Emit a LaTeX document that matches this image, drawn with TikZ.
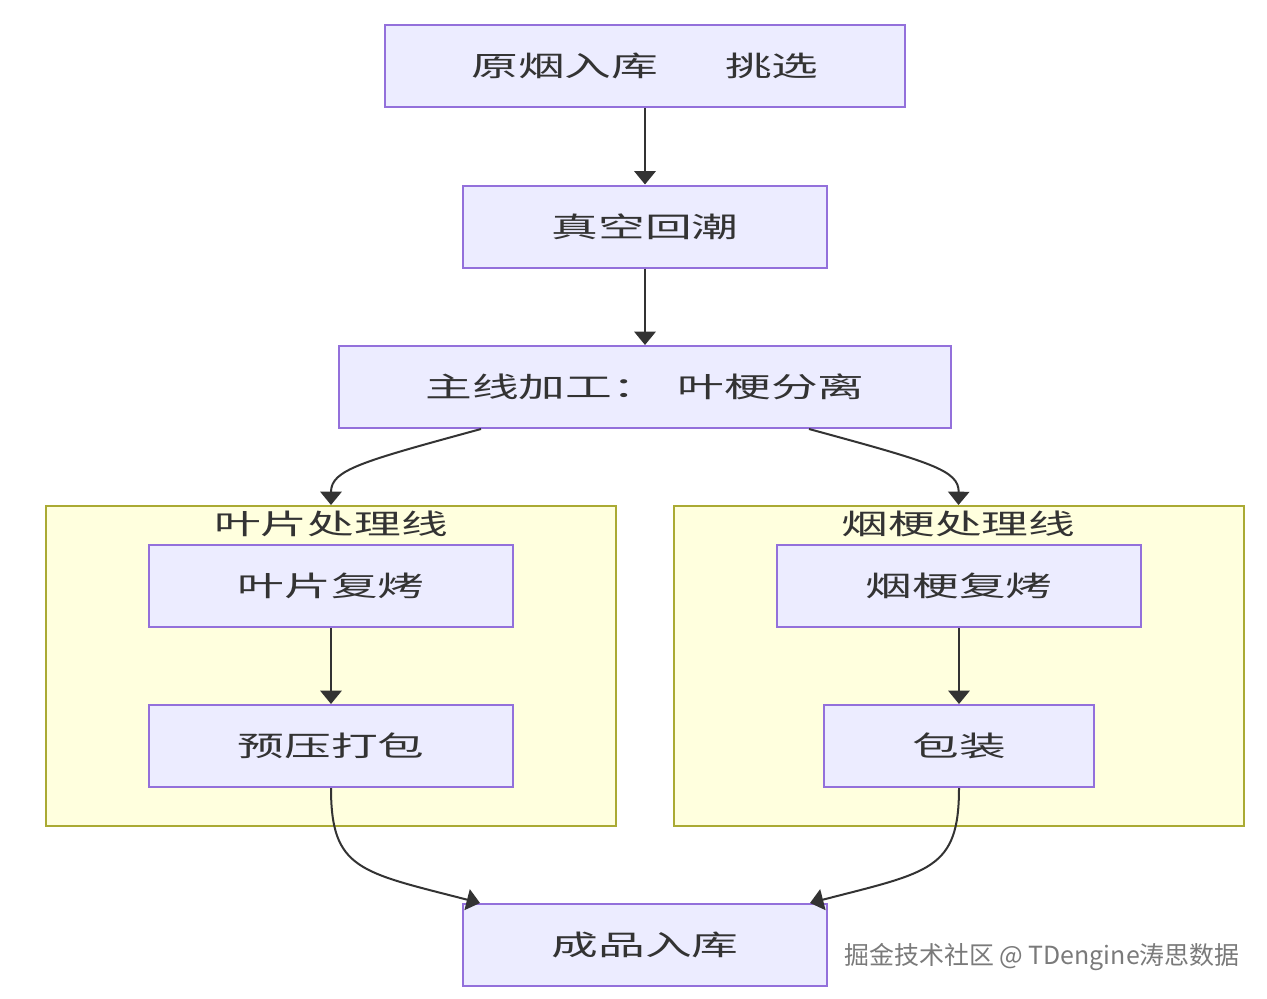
\documentclass[tikz,border=0pt]{standalone}
\usepackage{fontspec}
\usetikzlibrary{arrows.meta,calc}
\newfontfamily\cjk[FakeStretch=1.67]{Noto Sans CJK SC}
\newfontfamily\wmfont{Noto Sans CJK SC}
\definecolor{nfill}{HTML}{ECECFF}
\definecolor{nstroke}{HTML}{9370DB}
\definecolor{cfill}{HTML}{FFFFDE}
\definecolor{cstroke}{HTML}{AAAA33}
\definecolor{txt}{HTML}{333333}
\definecolor{wmc}{HTML}{7A7A7A}
\begin{document}
\begin{tikzpicture}[x=0.75pt,y=-0.75pt,
  proc/.style={draw=nstroke,fill=nfill,line width=1.5pt,minimum height=61.5pt,inner sep=0pt,
    text=txt,font=\cjk\fontsize{21}{24}\selectfont},
  clus/.style={draw=cstroke,fill=cfill,line width=1.5pt,minimum width=427.5pt,minimum height=240pt,inner sep=0pt},
  ctitle/.style={text=txt,font=\cjk\fontsize{21}{24}\selectfont,inner sep=0pt},
  edge/.style={draw=txt,line width=1.5pt,-{Triangle[length=10pt,width=16pt]}}]
\useasboundingbox (0,0) rectangle (1267,999);
\fill[white] (0,0) rectangle (1267,999);
% clusters
\node[clus] (cl) at (331,666) {};
\node[clus] (cr) at (958.5,666) {};
\node[ctitle] (clt) at (331,524) {叶片处理线};
\node[ctitle] (crt) at (958.5,524) {烟梗处理线};
% nodes
\node[proc,minimum width=390pt] (n1) at (645,66) {原烟入库\hspace{50pt}挑选};
\node[proc,minimum width=273pt] (n2) at (645,226.5) {真空回潮};
\node[proc,minimum width=459pt] (n3) at (645,387) {主线加工：\hspace{14pt}叶梗分离};
\node[proc,minimum width=273pt] (a1) at (331,586) {叶片复烤};
\node[proc,minimum width=273pt] (a2) at (331,746) {预压打包};
\node[proc,minimum width=273pt] (b1) at (959,586) {烟梗复烤};
\node[proc,minimum width=202.5pt] (b2) at (959,746) {包装};
\node[proc,minimum width=273pt] (n4) at (645,945) {成品入库};
% edges
\draw[edge] (n1.south) -- (n2.north);
\draw[edge] (n2.south) -- (n3.north);
\draw[edge] ($(n3.south west)+(143,0)$) .. controls (360,462) and (331,470) .. (cl.north);
\draw[edge] ($(n3.south east)+(-143,0)$) .. controls (930,462) and (959,470) .. (cr.north);
\draw[edge] (a1.south) -- (a2.north);
\draw[edge] (b1.south) -- (b2.north);
\draw[edge] (a2.south) .. controls (331,870) and (360,872) .. ($(n4.north west)+(18,0)$);
\draw[edge] (b2.south) .. controls (959,870) and (930,872) .. ($(n4.north east)+(-18,0)$);
% watermark
\node[text=wmc,font=\wmfont\fontsize{18.7}{22}\selectfont,inner sep=0pt] (wm) at (1042,957) {掘金技术社区 @ TDengine涛思数据};
\end{tikzpicture}
\end{document}
